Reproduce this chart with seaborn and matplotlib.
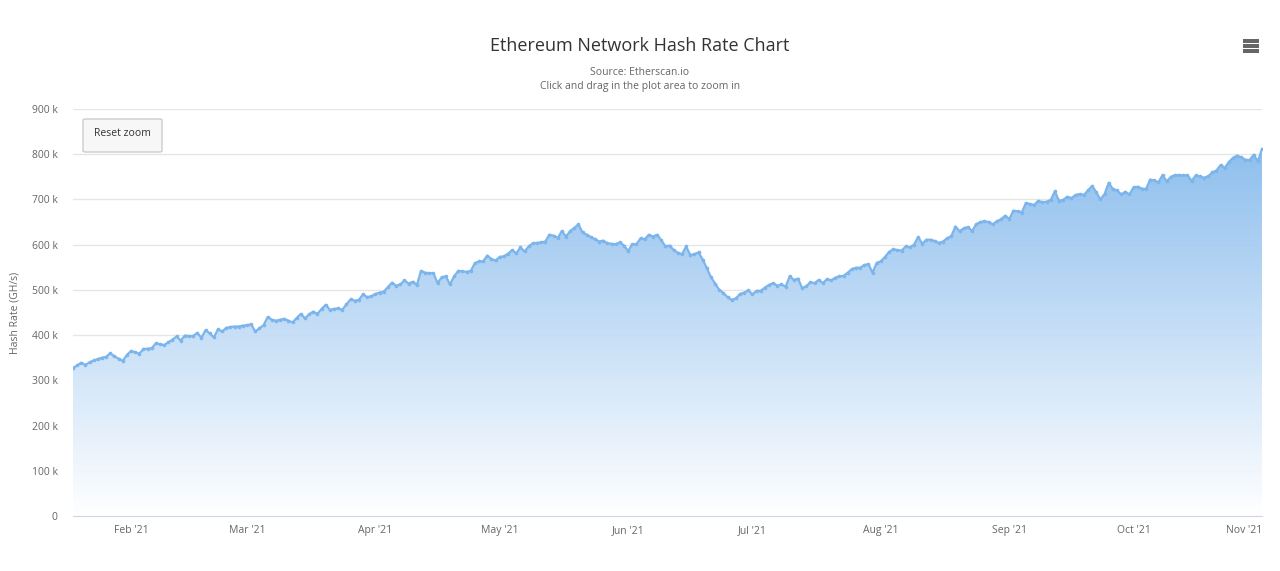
import matplotlib
matplotlib.use("Agg")
import matplotlib.pyplot as plt
import matplotlib.dates as mdates
import matplotlib.ticker as mtick
from matplotlib.colors import LinearSegmentedColormap
from matplotlib.patches import FancyBboxPatch, Rectangle
import seaborn as sns
import numpy as np
import pandas as pd

# daily hash rate (k GH/s), 18 Jan 2021 -> 1 Nov 2021
START_DATE = "2021-01-18"
HASH_RATE_K = [
    327, 333, 339, 334, 340, 344, 347, 350, 352, 360, 353, 348, 343, 356,
    365, 362, 359, 369, 370, 371, 382, 380, 378, 384, 390, 397, 388, 399,
    398, 398, 405, 394, 411, 404, 395, 413, 408, 416, 418, 419, 419, 421,
    422, 424, 408, 415, 422, 440, 434, 432, 434, 436, 432, 428, 438, 447,
    437, 446, 452, 447, 458, 467, 456, 458, 459, 456, 468, 479, 476, 478,
    490, 484, 486, 491, 494, 496, 506, 516, 509, 512, 521, 514, 518, 511,
    542, 538, 537, 537, 515, 528, 530, 512, 530, 542, 541, 540, 542, 559,
    563, 563, 576, 568, 565, 573, 574, 580, 588, 581, 594, 585, 596, 603,
    604, 605, 607, 622, 620, 615, 630, 618, 630, 637, 645, 627, 622, 617,
    612, 607, 609, 603, 602, 601, 605, 598, 586, 601, 601, 614, 612, 622,
    618, 622, 610, 596, 598, 588, 582, 579, 596, 577, 579, 583, 567, 548,
    528, 514, 500, 493, 484, 478, 481, 491, 494, 499, 490, 498, 498, 505,
    511, 515, 509, 512, 507, 530, 522, 525, 504, 508, 517, 515, 522, 515,
    524, 521, 527, 530, 531, 538, 546, 549, 549, 555, 557, 538, 560, 563,
    573, 584, 590, 588, 587, 596, 594, 600, 617, 602, 611, 611, 608, 604,
    607, 614, 619, 640, 630, 636, 639, 630, 645, 650, 652, 650, 645, 652,
    656, 664, 657, 675, 674, 671, 692, 690, 688, 697, 694, 695, 699, 718,
    697, 699, 706, 703, 710, 712, 710, 720, 730, 716, 700, 712, 737, 723,
    720, 711, 717, 711, 727, 728, 724, 723, 744, 742, 738, 754, 740, 750,
    754, 754, 753, 754, 741, 753, 751, 748, 751, 760, 764, 776, 770, 783,
    792, 797, 793, 788, 787, 799, 784, 812,
]
MONTH_TICKS = ["2021-02-01", "2021-03-01", "2021-04-01", "2021-05-01", "2021-06-01",
               "2021-07-01", "2021-08-01", "2021-09-01", "2021-10-01", "2021-11-01"]
Y_TICKS = [0, 100_000, 200_000, 300_000, 400_000, 500_000, 600_000, 700_000, 800_000, 900_000]

TITLE = "Ethereum Network Hash Rate Chart"
SUBTITLE = "Source: Etherscan.io"
SUBTITLE2 = "Click and drag in the plot area to zoom in"
LINE_COLOR = "#7cb5ec"

df = pd.DataFrame({
    "date": pd.date_range(START_DATE, periods=len(HASH_RATE_K), freq="D"),
    "hash_rate": np.array(HASH_RATE_K) * 1000,
})

sns.set_style("white")
plt.rcParams["font.family"] = ["Open Sans", "DejaVu Sans"]

fig = plt.figure(figsize=(12.8, 5.71), dpi=100)
ax = fig.add_axes([73 / 1280, 55 / 571, (1262 - 73) / 1280, (516 - 109) / 571])

xnum = mdates.date2num(df["date"])
x0, x1 = xnum[0], xnum[-1]

# gradient area fill, clipped to the area under the series
cmap = LinearSegmentedColormap.from_list("hc", ["#ffffff", "#7cb5ec"])
grad = np.linspace(0, 1, 256).reshape(-1, 1)
img = ax.imshow(grad, cmap=cmap, origin="lower", aspect="auto",
                extent=[x0, x1, 0, 900_000], zorder=1, alpha=0.95)
poly = ax.fill_between(df["date"], df["hash_rate"], 0, color="none", lw=0)
img.set_clip_path(poly.get_paths()[0], transform=ax.transData)

sns.lineplot(data=df, x="date", y="hash_rate", ax=ax, color=LINE_COLOR, linewidth=1.6,
             marker="o", markersize=2.6, markeredgewidth=0, zorder=3)

ax.set_xlim(x0, x1)
ax.set_ylim(0, 900_000)
ax.set_yticks(Y_TICKS)
ax.yaxis.set_major_formatter(mtick.FuncFormatter(lambda v, _: "0" if v == 0 else f"{v / 1000:.0f} k"))
ax.set_xticks(pd.to_datetime(MONTH_TICKS))
ax.xaxis.set_major_formatter(mdates.DateFormatter("%b '%y"))
ax.grid(axis="y", color="#e6e6e6", linewidth=1)
ax.set_axisbelow(True)
for side in ["top", "right", "left"]:
    ax.spines[side].set_visible(False)
ax.spines["bottom"].set_color("#ccd6eb")
ax.tick_params(axis="x", colors="#666666", labelsize=7.5, length=6, width=1,
               color="#ccd6eb", pad=0.5, direction="out")
ax.tick_params(axis="y", colors="#666666", labelsize=7.5, length=0, pad=11)
for lbl in ax.get_xticklabels() + ax.get_yticklabels():
    lbl.set_color("#666666")
# keep the last month label inside the figure, as the original does
ax.get_xticklabels()[-1].set_horizontalalignment("right")
ax.set_xlabel("")
ax.set_ylabel("Hash Rate (GH/s)", fontsize=7.5, color="#666666", labelpad=8)

fig.text(0.5, 1 - 46 / 571, TITLE, ha="center", va="center", fontsize=13, color="#333333")
fig.text(0.5, 1 - 72 / 571, SUBTITLE, ha="center", va="center", fontsize=7.5, color="#666666")
fig.text(0.5, 1 - 86 / 571, SUBTITLE2, ha="center", va="center", fontsize=7.5, color="#666666")

# reset zoom button
fig.patches.append(FancyBboxPatch((83 / 1280, 1 - 152 / 571), 79 / 1280, 33 / 571,
                                  boxstyle="round,pad=0,rounding_size=0.002",
                                  transform=fig.transFigure, facecolor="#f7f7f7",
                                  edgecolor="#cccccc", linewidth=1, zorder=5))
fig.text(122 / 1280, 1 - 134 / 571, "Reset zoom", ha="center", va="center",
         fontsize=7.5, color="#333333", zorder=6)

# context menu icon
for yy in (41, 46, 51):
    fig.patches.append(Rectangle((1243 / 1280, 1 - (yy + 1.5) / 571), 16 / 1280, 3 / 571,
                                 transform=fig.transFigure, facecolor="#666666",
                                 edgecolor="none"))

fig.savefig("out.png", dpi=100)
